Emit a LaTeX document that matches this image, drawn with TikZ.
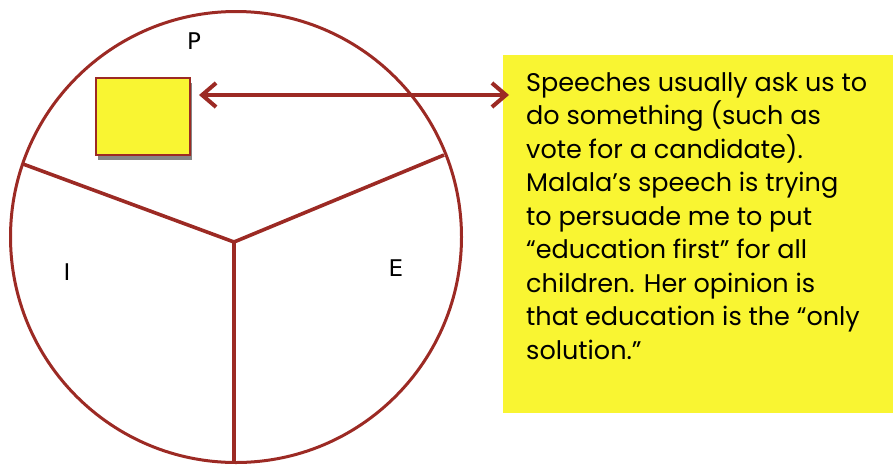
\documentclass[tikz,border=0pt]{standalone}
\usepackage{fontspec}
\setmainfont{Poppins}
\setsansfont{DejaVu Sans}
\usetikzlibrary{arrows.meta,shadows}
\definecolor{dred}{HTML}{9C2A24}
\definecolor{yel}{HTML}{F9F532}
\tikzset{
  redline/.style={draw=dred,line width=3.6pt},
  lbl/.style={font=\sffamily\fontsize{23}{27}\selectfont,inner sep=0pt},
  arr/.style={draw=dred,line width=3.5pt,{Straight Barb[length=14pt,width=24pt,line width=4pt]}-{Straight Barb[length=14pt,width=24pt,line width=4pt]}}
}
\begin{document}
\begin{tikzpicture}[x=1pt,y=-1pt]
\useasboundingbox (0,0) rectangle (893,464);
\node[circle,draw=dred,line width=3pt,minimum size=451pt,inner sep=0pt] (c) at (236,237) {};
\coordinate (y0) at (234,242);
\coordinate (yl) at (23,164);
\coordinate (yr) at (444,155);
\coordinate (yb) at (234,463);
\draw[redline] (yl) -- (y0) -- (yr);
\draw[redline] (y0) -- (yb);
\node[lbl] (P) at (194,41) {P};
\node[lbl] (I) at (67,272) {I};
\node[lbl] (E) at (396,268) {E};
\node[draw=dred,line width=2.4pt,fill=yel,minimum width=94pt,minimum height=77pt,inner sep=0pt,anchor=north west,drop shadow={shadow xshift=2pt,shadow yshift=-5pt,opacity=0.6,fill=black!80}] (sq) at (95,77) {};
\node[fill=yel,minimum width=390pt,minimum height=358pt,inner sep=0pt,anchor=north west] (box) at (503,55) {};
\node[anchor=north west,inner sep=0pt,align=left,font=\fontsize{25.5}{33.5}\selectfont] (txt) at (526,72) {Speeches usually ask us to\\do something (such as\\vote for a candidate).\\Malala’s speech is trying\\to persuade me to put\\“education first” for all\\children. Her opinion is\\that education is the “only\\solution.”};
\coordinate (a1) at (199,95);
\coordinate (a2) at (509,95);
\draw[arr] (a1) -- (a2);
\end{tikzpicture}
\end{document}
